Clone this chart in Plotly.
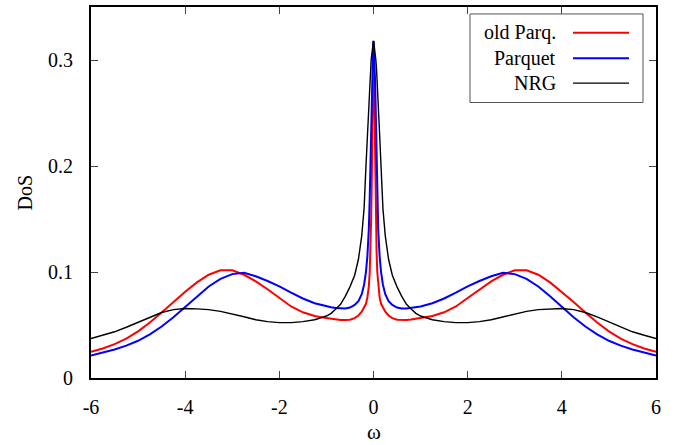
import plotly.graph_objects as go

# frequency grid (omega)
omega = [-6.0, -5.75, -5.5, -5.25, -5.0, -4.75, -4.5, -4.25, -4.0, -3.75, -3.5, -3.25, -3.0,
         -2.75, -2.5, -2.25, -2.0, -1.75, -1.5, -1.25, -1.0, -0.9, -0.8, -0.7, -0.6, -0.5,
         -0.4, -0.32, -0.25, -0.2, -0.16, -0.13, -0.1, -0.08, -0.065, -0.05, -0.04, -0.03,
         -0.02, -0.01, 0.0,
         0.01, 0.02, 0.03, 0.04, 0.05, 0.065, 0.08, 0.1, 0.13, 0.16, 0.2, 0.25, 0.32, 0.4,
         0.5, 0.6, 0.7, 0.8, 0.9, 1.0, 1.25, 1.5, 1.75, 2.0, 2.25, 2.5, 2.75, 3.0, 3.25,
         3.5, 3.75, 4.0, 4.25, 4.5, 4.75, 5.0, 5.25, 5.5, 5.75, 6.0]

dos_old_parq = [0.0247, 0.0279, 0.0319, 0.0371, 0.0440, 0.0523, 0.0618, 0.0716, 0.0813, 0.0902,
                0.0974, 0.1016, 0.1016, 0.0974, 0.0912, 0.0837, 0.0755, 0.0675, 0.0620, 0.0585,
                0.0565, 0.0558, 0.0552, 0.0548, 0.0546, 0.0550, 0.0565, 0.0590, 0.0625, 0.0660,
                0.0700, 0.0760, 0.0860, 0.1000, 0.1200, 0.1500, 0.1750, 0.2100, 0.2500, 0.2900,
                0.3180,
                0.2900, 0.2500, 0.2100, 0.1750, 0.1500, 0.1200, 0.1000, 0.0860, 0.0760, 0.0700,
                0.0660, 0.0625, 0.0590, 0.0565, 0.0550, 0.0546, 0.0548, 0.0552, 0.0558, 0.0565,
                0.0585, 0.0620, 0.0675, 0.0755, 0.0837, 0.0912, 0.0974, 0.1016, 0.1016, 0.0974,
                0.0902, 0.0813, 0.0716, 0.0618, 0.0523, 0.0440, 0.0371, 0.0319, 0.0279, 0.0247]

dos_parquet = [0.0211, 0.0239, 0.0269, 0.0305, 0.0351, 0.0411, 0.0486, 0.0574, 0.0671, 0.0771,
               0.0863, 0.0935, 0.0980, 0.0992, 0.0960, 0.0915, 0.0865, 0.0805, 0.0750, 0.0705,
               0.0675, 0.0667, 0.0660, 0.0655, 0.0655, 0.0665, 0.0690, 0.0725, 0.0790, 0.0880,
               0.1000, 0.1150, 0.1400, 0.1700, 0.2050, 0.2500, 0.2680, 0.2850, 0.2980, 0.3100,
               0.3180,
               0.3100, 0.2980, 0.2850, 0.2680, 0.2500, 0.2050, 0.1700, 0.1400, 0.1150, 0.1000,
               0.0880, 0.0790, 0.0725, 0.0690, 0.0665, 0.0655, 0.0655, 0.0660, 0.0667, 0.0675,
               0.0705, 0.0750, 0.0805, 0.0865, 0.0915, 0.0960, 0.0992, 0.0980, 0.0935, 0.0863,
               0.0771, 0.0671, 0.0574, 0.0486, 0.0411, 0.0351, 0.0305, 0.0269, 0.0239, 0.0211]

dos_nrg = [0.0373, 0.0403, 0.0436, 0.0479, 0.0527, 0.0576, 0.0618, 0.0645, 0.0655, 0.0652,
           0.0645, 0.0628, 0.0605, 0.0578, 0.0550, 0.0532, 0.0522, 0.0522, 0.0532, 0.0550,
           0.0585, 0.0610, 0.0650, 0.0695, 0.0770, 0.0860, 0.0970, 0.1120, 0.1340, 0.1600,
           0.2000, 0.2300, 0.2600, 0.2790, 0.2910, 0.3000, 0.3040, 0.3080, 0.3120, 0.3150,
           0.3180,
           0.3150, 0.3120, 0.3080, 0.3040, 0.3000, 0.2910, 0.2790, 0.2600, 0.2300, 0.2000,
           0.1600, 0.1340, 0.1120, 0.0970, 0.0860, 0.0770, 0.0695, 0.0650, 0.0610, 0.0585,
           0.0550, 0.0532, 0.0522, 0.0522, 0.0532, 0.0550, 0.0578, 0.0605, 0.0628, 0.0645,
           0.0652, 0.0655, 0.0645, 0.0618, 0.0576, 0.0527, 0.0479, 0.0436, 0.0403, 0.0373]

series_names = ["old Parq.", "Parquet", "NRG"]
series_colors = ["#ff0000", "#0000ff", "#000000"]
series_widths = [2, 2, 1.4]
series_values = [dos_old_parq, dos_parquet, dos_nrg]

x_ticks = [-6, -4, -2, 0, 2, 4, 6]
y_ticks = [0, 0.1, 0.2, 0.3]
y_tick_labels = ["0", "0.1", "0.2", "0.3"]

FONT = "Liberation Serif, Times New Roman, serif"

fig = go.Figure()
for name, col, wd, vals in zip(series_names, series_colors, series_widths, series_values):
    fig.add_trace(go.Scatter(x=omega, y=vals, mode="lines", name=name,
                             line=dict(color=col, width=wd, shape="linear"),
                             showlegend=False, hoverinfo="skip"))

fig.update_layout(
    width=689, height=445,
    margin=dict(l=91, r=33, t=5, b=67),
    paper_bgcolor="white", plot_bgcolor="white",
    font=dict(family=FONT, size=20, color="black"),
    showlegend=False,
)
fig.update_xaxes(range=[-6, 6], tickvals=x_ticks, ticktext=[str(v) for v in x_ticks],
                 ticks="inside", ticklen=7, tickwidth=1, tickcolor="#444",
                 showline=True, linewidth=2, linecolor="black", mirror="ticks",
                 showgrid=False, zeroline=False, ticklabelstandoff=10,
                 tickfont=dict(family=FONT, size=20))
fig.update_yaxes(range=[0, 0.35], tickvals=y_ticks, ticktext=y_tick_labels,
                 ticks="inside", ticklen=7, tickwidth=1, tickcolor="#444",
                 showline=True, linewidth=2, linecolor="black", mirror="ticks",
                 showgrid=False, zeroline=False, ticklabelstandoff=12,
                 tickfont=dict(family=FONT, size=20))

# axis titles
fig.add_annotation(text="ω", xref="paper", yref="paper", x=0.5, y=-0.145,
                   showarrow=False, font=dict(family=FONT, size=21), yanchor="middle")
fig.add_annotation(text="DoS", xref="paper", yref="paper", x=-0.117, y=0.5, textangle=-90,
                   showarrow=False, font=dict(family=FONT, size=20), xanchor="center")

# legend (gnuplot style: label right-aligned, sample line on the right)
W0, W1 = 91, 656
H0, H1 = 5, 378
def px(xp):
    return (xp - W0) / (W1 - W0)
def py(yp):
    return 1 - (yp - H0) / (H1 - H0)

fig.add_shape(type="rect", xref="paper", yref="paper",
              x0=px(470), x1=px(643), y0=py(101), y1=py(12),
              line=dict(color="#555", width=1), fillcolor="white", layer="above")
rows = [31, 56.5, 81.5]
for name, col, wd, r in zip(series_names, series_colors, series_widths, rows):
    fig.add_annotation(text=name, xref="paper", yref="paper", x=px(558), y=py(r),
                       xanchor="right", yanchor="middle", showarrow=False,
                       font=dict(family=FONT, size=20))
    fig.add_shape(type="line", xref="paper", yref="paper",
                  x0=px(573), x1=px(629), y0=py(r), y1=py(r),
                  line=dict(color=col, width=wd), layer="above")

fig.write_html("out.html", config={"displayModeBar": False},
               post_script="document.body.style.margin='0';")
